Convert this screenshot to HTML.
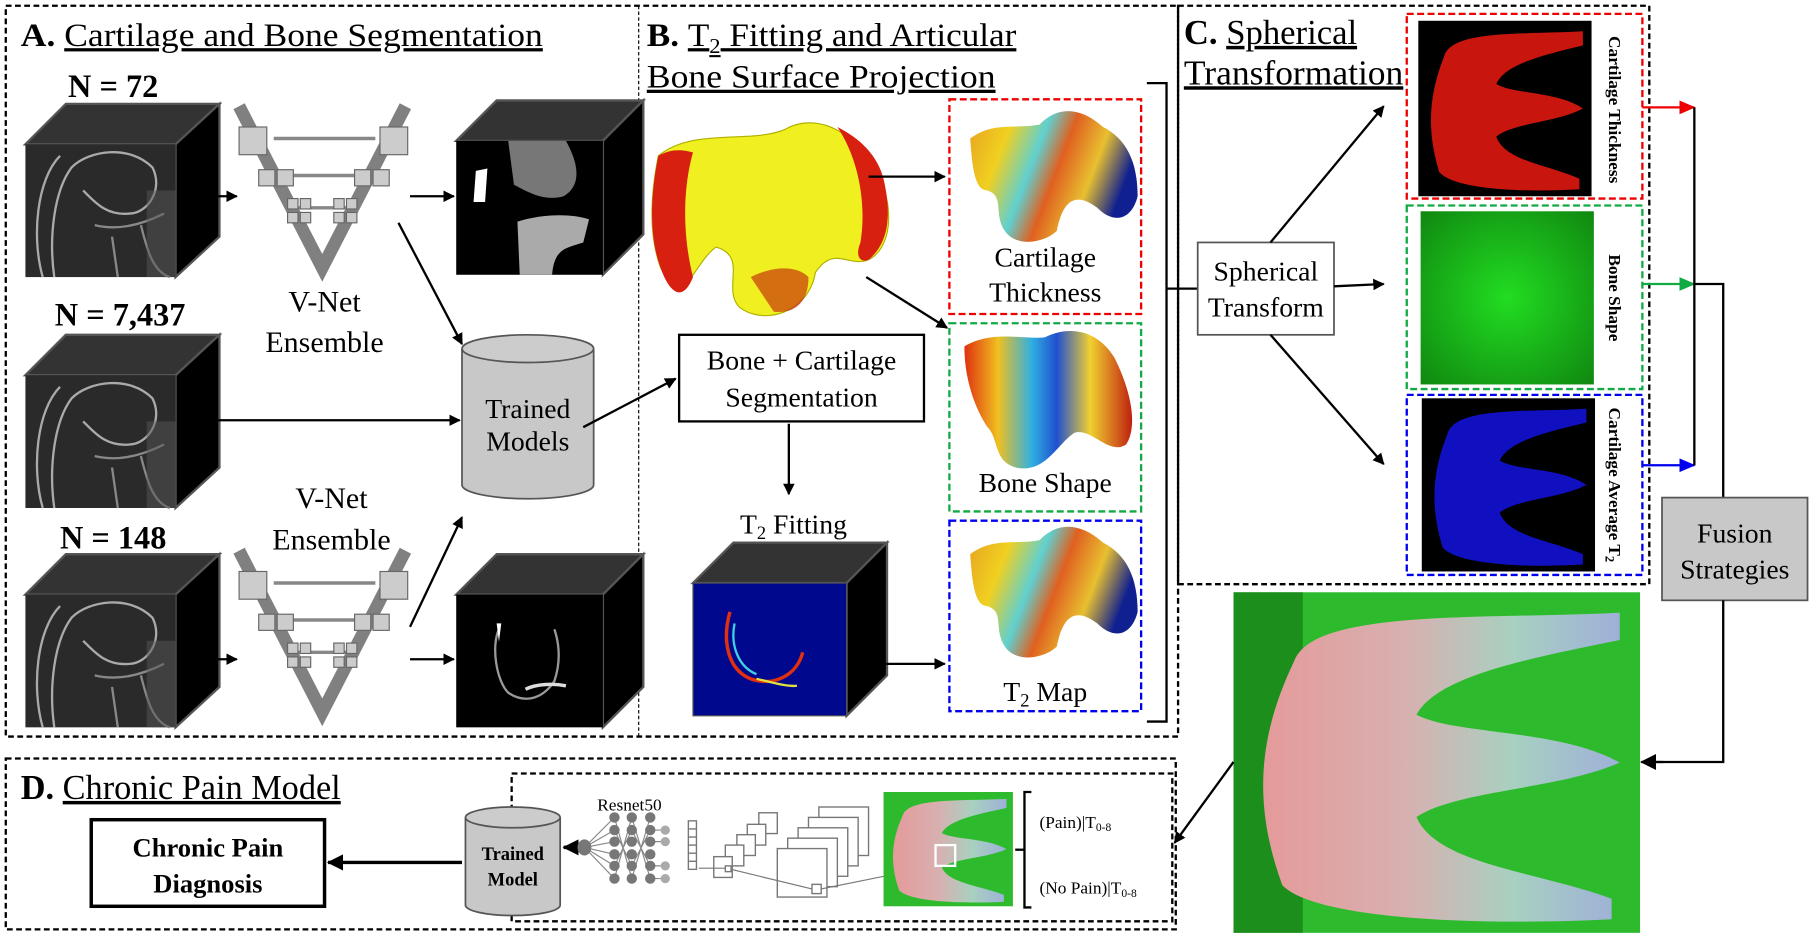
<!DOCTYPE html>
<html><head><meta charset="utf-8"><style>
html,body{margin:0;padding:0;background:#fff;}
svg{display:block;font-family:"Liberation Serif",serif;}
</style></head><body>
<svg width="1811" height="934" viewBox="0 0 1568 809" preserveAspectRatio="none" xmlns="http://www.w3.org/2000/svg">
<defs>
<marker id="ah" markerWidth="10" markerHeight="10" refX="9" refY="5" orient="auto" markerUnits="userSpaceOnUse"><path d="M0,0 L10,5 L0,10 Z" fill="#000"/></marker>
<marker id="ahr" markerWidth="14" markerHeight="12" refX="13" refY="6" orient="auto" markerUnits="userSpaceOnUse"><path d="M0,0 L14,6 L0,12 Z" fill="#e00"/></marker>
<marker id="ahg" markerWidth="14" markerHeight="12" refX="13" refY="6" orient="auto" markerUnits="userSpaceOnUse"><path d="M0,0 L14,6 L0,12 Z" fill="#1a4"/></marker>
<marker id="ahb" markerWidth="14" markerHeight="12" refX="13" refY="6" orient="auto" markerUnits="userSpaceOnUse"><path d="M0,0 L14,6 L0,12 Z" fill="#00e"/></marker>
<marker id="ahL" markerWidth="14" markerHeight="14" refX="13" refY="7" orient="auto" markerUnits="userSpaceOnUse"><path d="M0,0 L14,7 L0,14 Z" fill="#000"/></marker>
<linearGradient id="rain" x1="0" y1="0" x2="1" y2="0.3">
<stop offset="0" stop-color="#e8a020"/><stop offset="0.25" stop-color="#f0d020"/><stop offset="0.45" stop-color="#60d0d0"/><stop offset="0.6" stop-color="#e06020"/><stop offset="0.8" stop-color="#e8c030"/><stop offset="1" stop-color="#102090"/></linearGradient>
<linearGradient id="rain2" x1="0" y1="0" x2="1" y2="0">
<stop offset="0" stop-color="#e03010"/><stop offset="0.2" stop-color="#f0c020"/><stop offset="0.4" stop-color="#30b0e0"/><stop offset="0.55" stop-color="#2050d0"/><stop offset="0.75" stop-color="#f0d030"/><stop offset="1" stop-color="#c02010"/></linearGradient>
<radialGradient id="grn" cx="0.5" cy="0.5" r="0.7"><stop offset="0" stop-color="#22dd22"/><stop offset="1" stop-color="#108810"/></radialGradient>
<linearGradient id="fuse" x1="0" y1="0" x2="1" y2="0"><stop offset="0" stop-color="#e59a9a"/><stop offset="0.4" stop-color="#d8b0b0"/><stop offset="0.7" stop-color="#a8d0c0"/><stop offset="1" stop-color="#9fb0d8"/></linearGradient>
<path id="eshape" d="M15,20 C20,5 60,8 95,6 L95,14 C70,20 50,25 45,36 C55,42 80,40 95,50 C80,58 55,58 45,66 C50,80 75,82 93,90 L93,96 C60,98 20,96 12,86 C4,60 7,40 15,20 Z"/>
<g id="mri">
<rect x="0" y="0" width="130" height="115" fill="#2a2a2a"/>
<path d="M15,115 C5,80 10,30 30,10 M25,115 C20,80 25,40 40,20 C55,5 90,0 110,20 C120,40 105,60 90,60 C70,62 60,50 50,40" stroke="#aaa" stroke-width="2" fill="none"/>
<path d="M60,70 C80,75 100,70 120,60 M75,80 L80,115 M100,70 C105,90 110,110 125,115" stroke="#888" stroke-width="2" fill="none"/>
<rect x="105" y="40" width="25" height="75" fill="#555" opacity="0.5"/>
</g>
<g id="vnet">
<path d="M0,0 L72,140 L144,0" stroke="#808080" stroke-width="11" fill="none"/>
<line x1="30" y1="28" x2="118" y2="28" stroke="#888" stroke-width="3"/>
<line x1="40" y1="60" x2="106" y2="60" stroke="#888" stroke-width="3"/>
<line x1="50" y1="88" x2="96" y2="88" stroke="#888" stroke-width="3"/>
<g fill="#ccc" stroke="#666" stroke-width="1">
<rect x="0" y="18" width="24" height="24"/><rect x="122" y="18" width="24" height="24"/>
<rect x="17" y="55" width="14" height="14"/><rect x="33" y="55" width="14" height="14"/><rect x="100" y="55" width="14" height="14"/><rect x="116" y="55" width="14" height="14"/>
<rect x="42" y="80" width="9" height="9"/><rect x="53" y="80" width="9" height="9"/><rect x="82" y="80" width="9" height="9"/><rect x="93" y="80" width="9" height="9"/>
<rect x="42" y="92" width="9" height="9"/><rect x="53" y="92" width="9" height="9"/><rect x="82" y="92" width="9" height="9"/><rect x="93" y="92" width="9" height="9"/>
</g>
</g>
</defs>

<!-- outer boxes -->
<rect x="5" y="5" width="1015" height="633" fill="none" stroke="#000" stroke-width="2" stroke-dasharray="5,3"/>
<line x1="553" y1="5" x2="553" y2="638" stroke="#000" stroke-width="1" stroke-dasharray="3,2"/>
<rect x="1020" y="5" width="408" height="501" fill="none" stroke="#000" stroke-width="2" stroke-dasharray="5,3"/>
<rect x="5" y="657" width="1013" height="148" fill="none" stroke="#000" stroke-width="2" stroke-dasharray="5,3"/>
<rect x="443" y="670" width="572" height="128" fill="none" stroke="#000" stroke-width="2" stroke-dasharray="5,3"/>

<!-- A -->
<text x="18" y="40" font-size="28" textLength="452" lengthAdjust="spacingAndGlyphs"><tspan font-weight="bold">A.</tspan> <tspan text-decoration="underline">Cartilage and Bone Segmentation</tspan></text>
<text x="98" y="84" font-size="28" font-weight="bold" text-anchor="middle">N = 72</text>
<text x="104" y="282" font-size="28" font-weight="bold" text-anchor="middle">N = 7,437</text>
<text x="98" y="475" font-size="28" font-weight="bold" text-anchor="middle">N = 148</text>

<polygon points="22,125 57,90 190,90 152,125" fill="#333" stroke="#555" stroke-width="2"/>
<polygon points="152,125 190,90 190,205 152,240" fill="#000" stroke="#555" stroke-width="2"/>
<use href="#mri" x="22" y="125"/>
<polygon points="22,325 57,290 190,290 152,325" fill="#333" stroke="#555" stroke-width="2"/>
<polygon points="152,325 190,290 190,405 152,440" fill="#000" stroke="#555" stroke-width="2"/>
<use href="#mri" x="22" y="325"/>
<polygon points="22,515 57,480 190,480 152,515" fill="#333" stroke="#555" stroke-width="2"/>
<polygon points="152,515 190,480 190,595 152,630" fill="#000" stroke="#555" stroke-width="2"/>
<use href="#mri" x="22" y="515"/>
<polygon points="395,122 430,87 557,87 522,122" fill="#333" stroke="#555" stroke-width="2"/>
<polygon points="522,122 557,87 557,203 522,238" fill="#000" stroke="#555" stroke-width="2"/>
<rect x="395" y="122" width="127" height="116" fill="#000"/>
<path d="M412,148 L422,146 L420,175 L410,175 Z" fill="#fff"/>
<path d="M440,122 L490,122 C500,140 505,160 488,170 C470,175 455,165 445,160 Z" fill="#777"/>
<path d="M448,192 C470,185 495,185 510,190 L505,210 C490,215 480,215 478,238 L450,238 Z" fill="#aaa"/>
<polygon points="395,515 430,480 557,480 522,515" fill="#333" stroke="#555" stroke-width="2"/>
<polygon points="522,515 557,480 557,595 522,630" fill="#000" stroke="#555" stroke-width="2"/>
<rect x="395" y="515" width="127" height="115" fill="#000"/>
<path d="M432,545 C425,560 430,590 440,600 C455,610 470,605 480,590 C485,575 485,560 480,545" stroke="#999" stroke-width="2" fill="none"/>
<path d="M430,540 L434,540 L432,556 Z" fill="#fff"/>
<path d="M455,597 C465,592 480,592 490,594" stroke="#ddd" stroke-width="3" fill="none"/>

<use href="#vnet" x="207" y="92"/>
<use href="#vnet" x="207" y="477"/>
<text x="281" y="270" font-size="26" text-anchor="middle">V-Net</text>
<text x="281" y="305" font-size="26" text-anchor="middle">Ensemble</text>
<text x="287" y="440" font-size="26" text-anchor="middle">V-Net</text>
<text x="287" y="476" font-size="26" text-anchor="middle">Ensemble</text>

<path d="M400,302 L400,420 A57,12 0 0 0 514,420 L514,302" fill="#c8c8c8" stroke="#555" stroke-width="1.5"/>
<ellipse cx="457" cy="302" rx="57" ry="12" fill="#ccc" stroke="#555" stroke-width="1.5"/>
<text x="457" y="362" font-size="24" text-anchor="middle">Trained</text>
<text x="457" y="390" font-size="24" text-anchor="middle">Models</text>

<g stroke="#000" stroke-width="2" fill="none">
<line x1="172" y1="170" x2="205" y2="170" marker-end="url(#ah)"/>
<line x1="355" y1="170" x2="393" y2="170" marker-end="url(#ah)"/>
<line x1="345" y1="193" x2="400" y2="298" marker-end="url(#ah)"/>
<line x1="180" y1="364" x2="398" y2="364" marker-end="url(#ah)"/>
<line x1="355" y1="543" x2="400" y2="448" marker-end="url(#ah)"/>
<line x1="172" y1="571" x2="205" y2="571" marker-end="url(#ah)"/>
<line x1="355" y1="571" x2="393" y2="571" marker-end="url(#ah)"/>
</g>

<!-- B -->
<text x="560" y="40" font-size="28" textLength="320" lengthAdjust="spacingAndGlyphs"><tspan font-weight="bold">B.</tspan> <tspan text-decoration="underline">T<tspan font-size="18" dy="6">2</tspan><tspan dy="-6"> Fitting and Articular</tspan></tspan></text>
<text x="560" y="76" font-size="28" textLength="302" lengthAdjust="spacingAndGlyphs" text-decoration="underline">Bone Surface Projection</text>

<path d="M570,135 C600,110 650,125 680,112 C700,100 735,105 760,150 C775,180 772,215 752,225 C735,232 722,212 706,236 C700,272 660,282 640,266 C625,250 648,222 620,214 C600,228 592,272 572,232 C560,200 565,160 570,135 Z" fill="#f0f020" stroke="#b0b000" stroke-width="1"/>
<path d="M570,135 C582,128 592,130 600,132 C592,160 590,200 600,240 C590,265 578,250 572,232 C560,200 565,160 570,135 Z" fill="#d82010"/>
<path d="M725,110 C745,120 760,135 765,155 C772,185 770,210 752,225 C745,228 740,222 745,210 C750,180 745,140 725,110 Z" fill="#d82010"/>
<path d="M650,240 C670,230 690,230 700,240 C700,260 690,272 670,270 Z" fill="#c01808" opacity="0.6"/>

<polyline points="993,72 1010,72 1010,625 993,625" fill="none" stroke="#000" stroke-width="2"/>
<line x1="1010" y1="250" x2="1037" y2="250" stroke="#000" stroke-width="2"/>

<rect x="822" y="86" width="166" height="186" fill="none" stroke="#e00" stroke-width="2" stroke-dasharray="6,3"/>
<rect x="822" y="280" width="166" height="163" fill="none" stroke="#1a4" stroke-width="2" stroke-dasharray="6,3"/>
<rect x="822" y="451" width="166" height="165" fill="none" stroke="#00e" stroke-width="2" stroke-dasharray="6,3"/>
<path d="M840,120 C860,105 880,112 900,108 C915,92 935,92 955,110 C975,120 985,140 985,170 C980,190 965,195 950,180 C930,165 920,175 915,200 C905,210 880,215 870,200 C860,185 870,170 855,165 C845,165 842,150 840,120 Z" fill="url(#rain)"/>
<path d="M835,300 C860,285 890,295 905,292 C925,282 950,285 965,310 C980,340 985,370 975,385 C960,395 945,370 930,375 C915,385 905,410 880,405 C860,400 865,380 855,370 C845,355 835,330 835,300 Z" fill="url(#rain2)"/>
<path d="M840,480 C860,465 880,472 900,468 C915,452 935,452 955,470 C975,480 985,500 985,530 C980,550 965,555 950,540 C930,525 920,535 915,560 C905,570 880,575 870,560 C860,545 870,530 855,525 C845,525 842,510 840,480 Z" fill="url(#rain)"/>
<text x="905" y="231" font-size="24" text-anchor="middle">Cartilage</text>
<text x="905" y="261" font-size="24" text-anchor="middle">Thickness</text>
<text x="905" y="426" font-size="24" text-anchor="middle">Bone Shape</text>
<text x="905" y="607" font-size="24" text-anchor="middle">T<tspan font-size="16" dy="5">2</tspan><tspan dy="-5"> Map</tspan></text>

<rect x="588" y="290" width="212" height="75" fill="#fff" stroke="#000" stroke-width="2"/>
<text x="694" y="320" font-size="24" text-anchor="middle">Bone + Cartilage</text>
<text x="694" y="352" font-size="24" text-anchor="middle">Segmentation</text>
<text x="687" y="462" font-size="24" text-anchor="middle">T<tspan font-size="16" dy="5">2</tspan><tspan dy="-5"> Fitting</tspan></text>

<polygon points="600,505 635,470 768,470 733,505" fill="#333" stroke="#555" stroke-width="2"/>
<polygon points="733,505 768,470 768,585 733,620" fill="#000" stroke="#555" stroke-width="2"/>
<rect x="600" y="505" width="133" height="115" fill="#00088e" stroke="#555" stroke-width="1"/>
<path d="M632,530 C625,555 630,580 650,588 C670,595 690,585 695,565" stroke="#e03010" stroke-width="3" fill="none"/>
<path d="M636,540 C632,560 640,578 655,584" stroke="#40d0e0" stroke-width="2" fill="none"/>
<path d="M655,588 C665,590 680,595 690,594" stroke="#e0e040" stroke-width="2" fill="none"/>

<g stroke="#000" stroke-width="2" fill="none">
<line x1="752" y1="153" x2="818" y2="153" marker-end="url(#ah)"/>
<line x1="750" y1="240" x2="820" y2="284" marker-end="url(#ah)"/>
<line x1="505" y1="370" x2="585" y2="328" marker-end="url(#ah)"/>
<line x1="683" y1="367" x2="683" y2="428" marker-end="url(#ah)"/>
<line x1="740" y1="575" x2="818" y2="575" marker-end="url(#ah)"/>
</g>

<!-- C -->
<text x="1025" y="38" font-size="30" textLength="150" lengthAdjust="spacingAndGlyphs"><tspan font-weight="bold">C.</tspan> <tspan text-decoration="underline">Spherical</tspan></text>
<text x="1025" y="73" font-size="30" textLength="190" lengthAdjust="spacingAndGlyphs" text-decoration="underline">Transformation</text>
<rect x="1037" y="210" width="118" height="80" fill="#fff" stroke="#555" stroke-width="1.5"/>
<text x="1096" y="243" font-size="24" text-anchor="middle">Spherical</text>
<text x="1096" y="274" font-size="24" text-anchor="middle">Transform</text>
<g stroke="#000" stroke-width="2" fill="none">
<line x1="1100" y1="210" x2="1198" y2="92" marker-end="url(#ah)"/>
<line x1="1155" y1="248" x2="1198" y2="246" marker-end="url(#ah)"/>
<line x1="1100" y1="290" x2="1198" y2="402" marker-end="url(#ah)"/>
</g>
<rect x="1218" y="12" width="204" height="160" fill="none" stroke="#e00" stroke-width="2" stroke-dasharray="6,3"/>
<rect x="1218" y="178" width="204" height="159" fill="none" stroke="#1a4" stroke-width="2" stroke-dasharray="6,3"/>
<rect x="1218" y="342" width="204" height="156" fill="none" stroke="#00e" stroke-width="2" stroke-dasharray="6,3"/>
<rect x="1228" y="18" width="150" height="152" fill="#000"/>
<use href="#eshape" transform="translate(1228,18) scale(1.5,1.52)" fill="#c8150e"/>
<rect x="1230" y="183" width="150" height="150" fill="url(#grn)"/>
<rect x="1231" y="345" width="150" height="150" fill="#000"/>
<use href="#eshape" transform="translate(1231,345) scale(1.5,1.5)" fill="#1010c0"/>
<text transform="translate(1393,95) rotate(90)" font-size="15" font-weight="bold" text-anchor="middle">Cartilage Thickness</text>
<text transform="translate(1393,258) rotate(90)" font-size="15" font-weight="bold" text-anchor="middle">Bone Shape</text>
<text transform="translate(1393,420) rotate(90)" font-size="15" font-weight="bold" text-anchor="middle">Cartilage Average T<tspan font-size="11" dy="3">2</tspan></text>

<line x1="1422" y1="93" x2="1467" y2="93" stroke="#e00" stroke-width="2" marker-end="url(#ahr)"/>
<line x1="1422" y1="246" x2="1467" y2="246" stroke="#1a4" stroke-width="2" marker-end="url(#ahg)"/>
<line x1="1422" y1="403" x2="1467" y2="403" stroke="#00e" stroke-width="2" marker-end="url(#ahb)"/>
<line x1="1467" y1="93" x2="1467" y2="403" stroke="#000" stroke-width="2"/>
<polyline points="1467,246 1492,246 1492,431" fill="none" stroke="#000" stroke-width="2"/>
<rect x="1439" y="431" width="126" height="89" fill="#c8c8c8" stroke="#555" stroke-width="1.5"/>
<text x="1502" y="470" font-size="24" text-anchor="middle">Fusion</text>
<text x="1502" y="501" font-size="24" text-anchor="middle">Strategies</text>
<polyline points="1492,520 1492,660 1432,660" fill="none" stroke="#000" stroke-width="2"/>
<line x1="1440" y1="660" x2="1421" y2="660" stroke="#000" stroke-width="2" marker-end="url(#ahL)"/>

<!-- fused image -->
<rect x="1068" y="513" width="352" height="295" fill="#2dbb2d"/>
<rect x="1068" y="513" width="60" height="295" fill="#107010" opacity="0.6"/>
<use href="#eshape" transform="translate(1068,513) scale(3.52,2.95)" fill="url(#fuse)"/>
<line x1="1068" y1="660" x2="1017" y2="730" stroke="#000" stroke-width="2" marker-end="url(#ah)"/>

<!-- D -->
<text x="18" y="692" font-size="30" textLength="277" lengthAdjust="spacingAndGlyphs"><tspan font-weight="bold">D.</tspan> <tspan text-decoration="underline">Chronic Pain Model</tspan></text>
<rect x="79" y="710" width="202" height="75" fill="#fff" stroke="#000" stroke-width="3"/>
<text x="180" y="742" font-size="23" font-weight="bold" text-anchor="middle">Chronic Pain</text>
<text x="180" y="773" font-size="23" font-weight="bold" text-anchor="middle">Diagnosis</text>
<path d="M403,708 L403,784 A41,9 0 0 0 485,784 L485,708" fill="#c8c8c8" stroke="#555" stroke-width="1.5"/>
<ellipse cx="444" cy="708" rx="41" ry="9" fill="#ccc" stroke="#555" stroke-width="1.5"/>
<text x="444" y="745" font-size="16" font-weight="bold" text-anchor="middle">Trained</text>
<text x="444" y="767" font-size="16" font-weight="bold" text-anchor="middle">Model</text>
<line x1="400" y1="747" x2="284" y2="747" stroke="#000" stroke-width="3" marker-end="url(#ahL)"/>
<line x1="506" y1="734" x2="488" y2="734" stroke="#000" stroke-width="3" marker-end="url(#ahL)"/>

<!-- resnet -->
<text x="545" y="702" font-size="15" text-anchor="middle">Resnet50</text>
<g stroke="#888" stroke-width="1">
<path d="M506,734 L532,708 M506,734 L532,719 M506,734 L532,729 M506,734 L532,740 M506,734 L532,750 M506,734 L532,761 M532,708 L547,761 M532,761 L547,708 M547,708 L563,761 M547,761 L563,708 M532,719 L547,750 M532,750 L547,719 M547,719 L563,750 M547,750 L563,719 M563,719 L576,719 M563,729 L576,729 M563,750 L576,750 M563,761 L576,761"/>
</g>
<g fill="#777">
<ellipse cx="506" cy="734" rx="6" ry="7"/>
<circle cx="532" cy="708" r="4.5"/><circle cx="532" cy="719" r="4.5"/><circle cx="532" cy="729" r="4.5"/><circle cx="532" cy="740" r="4.5"/><circle cx="532" cy="750" r="4.5"/><circle cx="532" cy="761" r="4.5"/>
<circle cx="547" cy="708" r="4.5"/><circle cx="547" cy="719" r="4.5"/><circle cx="547" cy="729" r="4.5"/><circle cx="547" cy="740" r="4.5"/><circle cx="547" cy="750" r="4.5"/><circle cx="547" cy="761" r="4.5"/>
<circle cx="563" cy="708" r="4.5"/><circle cx="563" cy="719" r="4.5"/><circle cx="563" cy="729" r="4.5"/><circle cx="563" cy="740" r="4.5"/><circle cx="563" cy="750" r="4.5"/><circle cx="563" cy="761" r="4.5"/>
<circle cx="576" cy="719" r="4" fill="#aaa"/><circle cx="576" cy="729" r="4" fill="#aaa"/><circle cx="576" cy="750" r="4" fill="#aaa"/><circle cx="576" cy="761" r="4" fill="#aaa"/>
</g>
<g fill="#fff" stroke="#777" stroke-width="1.2">
<rect x="596" y="711" width="7" height="42"/>
<line x1="596" y1="718" x2="603" y2="718"/><line x1="596" y1="725" x2="603" y2="725"/><line x1="596" y1="732" x2="603" y2="732"/><line x1="596" y1="739" x2="603" y2="739"/><line x1="596" y1="746" x2="603" y2="746"/>
<rect x="657" y="704" width="16" height="18"/><rect x="647" y="714" width="16" height="18"/><rect x="638" y="723" width="16" height="18"/><rect x="628" y="732" width="16" height="18"/><rect x="618" y="742" width="16" height="18"/>
<rect x="709" y="699" width="43" height="42"/><rect x="700" y="708" width="43" height="42"/><rect x="691" y="717" width="43" height="42"/><rect x="682" y="726" width="43" height="42"/><rect x="673" y="735" width="43" height="42"/>
<rect x="628" y="750" width="5" height="5"/><rect x="703" y="766" width="8" height="8"/>
</g>
<path d="M810,750 L711,770 M703,770 L633,753 M628,752 L605,752" stroke="#777" stroke-width="1" fill="none"/>
<rect x="765" y="686" width="112" height="99" fill="#2dbb2d"/>
<use href="#eshape" transform="translate(765,686) scale(1.12,0.99)" fill="url(#fuse)"/>
<rect x="810" y="732" width="17" height="18" fill="none" stroke="#fff" stroke-width="2"/>
<polyline points="893,686 887,686 887,786 893,786" fill="none" stroke="#000" stroke-width="2"/>
<line x1="879" y1="736" x2="887" y2="736" stroke="#000" stroke-width="2"/>
<text x="900" y="717" font-size="15">(Pain)|T<tspan font-size="10" dy="3">0-8</tspan></text>
<text x="900" y="774" font-size="15">(No Pain)|T<tspan font-size="10" dy="3">0-8</tspan></text>
</svg>
</body></html>
